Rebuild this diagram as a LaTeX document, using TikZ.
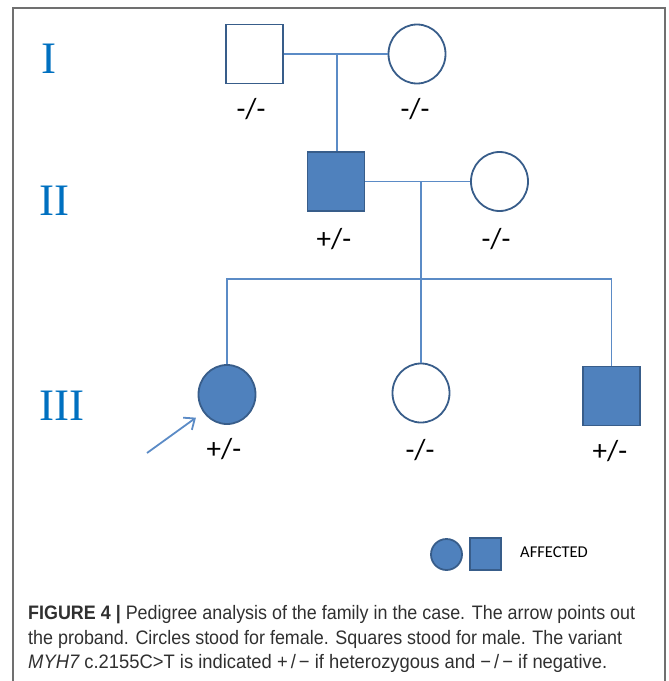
\documentclass[tikz,border=0pt]{standalone}
\usepackage{fontspec}
\setmainfont{Liberation Sans}
\newfontfamily\calib{Carlito}
\newfontfamily\romfont{Liberation Serif}
\usetikzlibrary{shapes.geometric,arrows.meta}
\definecolor{pfill}{HTML}{4F81BD}
\definecolor{pedge}{HTML}{385D8A}
\definecolor{pline}{HTML}{5B8BC6}
\definecolor{romcol}{HTML}{0070C0}
\definecolor{framecol}{HTML}{707070}
\definecolor{captext}{HTML}{303030}
\begin{document}
\begin{tikzpicture}[x=1pt,y=-1pt,
 male/.style={draw=pedge, line width=1.8pt, rectangle, minimum width=57pt, minimum height=59pt, inner sep=0pt},
 female/.style={draw=pedge, line width=1.8pt, ellipse, minimum width=57pt, minimum height=59pt, inner sep=0pt},
 aff/.style={fill=pfill},
 unaff/.style={fill=white},
 link/.style={draw=pline, line width=1.3pt},
 geno/.style={font=\calib\fontsize{29}{33}\selectfont, inner sep=0pt},
 gen/.style={font=\romfont\fontsize{45}{50}\selectfont, text=romcol, inner sep=0pt, anchor=base},
 capline/.style={anchor=base west, inner sep=0pt, font=\fontsize{19.5}{24}\selectfont, text=captext}
]
\useasboundingbox (0,0) rectangle (669,681);
\draw[framecol, line width=1.6pt] (13,690) -- (13,8) -- (665,8) -- (665,690);

% generation labels
\node[gen] (g1) at (49,73) {I};
\node[gen] (g2) at (54.5,215) {II};
\node[gen] (g3) at (62,420) {III};

% generation I
\node[male,unaff] (sq1) at (254.5,54) {};
\node[female,unaff] (c1) at (417,54) {};
\node[geno] (l1) at (251,109) {-/-};
\node[geno] (l2) at (415,109) {-/-};

% generation II
\node[male,aff] (sq2) at (336,181.5) {};
\node[female,unaff] (c2) at (499.5,181.5) {};
\node[geno] (l3) at (334,239) {+/-};
\node[geno] (l4) at (496,239) {-/-};

% generation III
\node[female,aff] (p3a) at (227,394.5) {};
\node[female,unaff] (c3) at (421,393) {};
\node[male,aff] (sq3) at (611.5,396) {};
\node[geno] (l5) at (224,449) {+/-};
\node[geno] (l6) at (420,450) {-/-};
\node[geno] (l7) at (610,451) {+/-};

% connectors
\coordinate (m1) at (337,54);
\coordinate (m2) at (421,181.5);
\coordinate (s) at (421,279);
\draw[link] (sq1.east) -- (c1.west);
\draw[link] (m1) -- (m1 |- sq2.north);
\draw[link] (sq2.east) -- (c2.west);
\draw[link] (m2) -- (c3.north);
\draw[link] (p3a.north) -- (p3a.north |- s) -- (sq3.north |- s) -- (sq3.north);

% proband arrow
\coordinate (tail) at (147,453);
\draw[draw=pline, line width=1.8pt, -{Straight Barb[length=9pt,width=15pt,line width=1.8pt]}, shorten >=9pt] (tail) -- (p3a.217);

% legend
\node[female,aff,minimum width=31pt,minimum height=31pt] (lc) at (446.5,554.5) {};
\node[male,aff,minimum width=31pt,minimum height=32pt] (ls) at (485.5,554) {};
\node[anchor=base west, inner sep=0pt, font=\calib\fontsize{16.5}{20}\selectfont] (aff) at (520,557) {AFFECTED};

% caption
\node[capline] (cap1) at (28,619) {\resizebox{607pt}{\height}{\textbf{FIGURE 4 |} Pedigree analysis of the family in the case. The arrow points out}};
\node[capline] (cap2) at (28,644) {\resizebox{594pt}{\height}{the proband. Circles stood for female. Squares stood for male. The variant}};
\node[capline] (cap3) at (28,668) {\resizebox{579pt}{\height}{{\itshape MYH7} c.2155C\textgreater{}T is indicated +\,/\,− if heterozygous and −\,/\,− if negative.}};
\end{tikzpicture}
\end{document}
